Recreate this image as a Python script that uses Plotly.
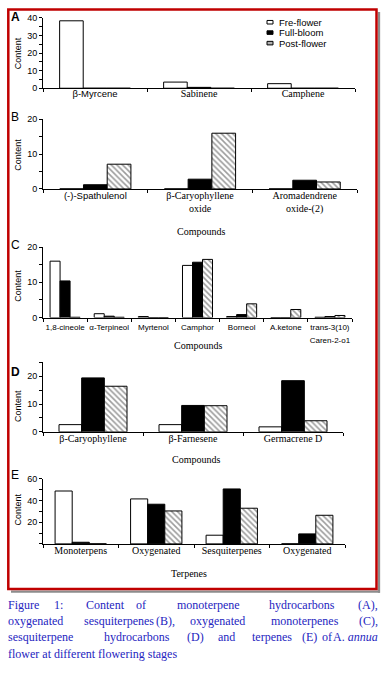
import plotly.graph_objects as go

W, H = 384, 674

# ---------------- data ----------------
series_names = ["Fre-flower", "Full-bloom", "Post-flower"]

A_categories = ["β-Myrcene", "Sabinene", "Camphene"]
A_fre = [38.3, 3.5, 2.6]
A_full = [0, 0.5, 0]
A_post = [0, 0, 0]

B_categories = ["(-)-Spathulenol", "β-Caryophyllene<br>oxide", "Aromadendrene<br>oxide-(2)"]
B_fre = [0, 0, 0]
B_full = [1.2, 2.8, 2.5]
B_post = [7.1, 16.0, 2.0]

C_categories = ["1,8-cineole", "α-Terpineol", "Myrtenol", "Camphor", "Borneol", "A.ketone",
                "trans-3(10)<br>Caren-2-o1"]
C_fre = [16.0, 1.1, 0.3, 14.8, 0.3, 0, 0.1]
C_full = [10.4, 0.4, 0, 15.7, 0.85, 0, 0.3]
C_post = [0.1, 0.1, 0, 16.5, 3.9, 2.3, 0.6]

D_categories = ["β-Caryophyllene", "β-Farnesene", "Germacrene D"]
D_fre = [2.6, 2.6, 1.8]
D_full = [19.4, 9.5, 18.4]
D_post = [16.4, 9.4, 4.0]

E_categories = ["Monoterpens", "Oxygenated", "Sesquiterpenes", "Oxygenated"]
E_fre = [48.8, 41.5, 8.0, 0]
E_full = [1.5, 36.6, 50.7, 9.2]
E_post = [0, 30.4, 32.9, 26.4]

y_label = "Content"

# ---------------- styling / layout ----------------
SANS = "Liberation Sans"
SERIF = "Liberation Serif"

def sans(t, size=9):
    return f'<span style="font-family:{SANS};font-size:{size}px">{t}</span>'

def serif(t, size=10):
    return f'<span style="font-family:{SERIF};font-size:{size}px">{t}</span>'

panels = [
    dict(key="A", cats=A_categories, vals=[A_fre, A_full, A_post], x0=43, x1=355, ytop=13, ybot=84.5,
         yrange=[0, 40], tickvals=[0, 10, 20, 30, 40], minor=5,
         fmt=[lambda t: sans(t, 9.5), serif, serif], xtitle=None, letter_y=12.5, letter_bold=True,
         content_y=49, standoff=-4),
    dict(key="B", cats=B_categories, vals=[B_fre, B_full, B_post], x0=43, x1=357, ytop=116, ybot=186.7,
         yrange=[0, 20], tickvals=[0, 10, 20], minor=5,
         fmt=[lambda t: sans(t, 9.5), serif, serif], xtitle=("Compounds", 201, 230), letter_y=114,
         letter_bold=False, content_y=152, standoff=-3),
    dict(key="C", cats=C_categories, vals=[C_fre, C_full, C_post], x0=43, x1=352, ytop=245.7, ybot=317.3,
         yrange=[0, 20], tickvals=[0, 10, 20], minor=5,
         fmt=[lambda t: sans(t, 8)] * 7, xtitle=("Compounds", 198, 346), letter_y=244, letter_bold=False,
         content_y=285, standoff=-1),
    dict(key="D", cats=D_categories, vals=[D_fre, D_full, D_post], x0=43, x1=343, ytop=362.7, ybot=433.3,
         yrange=[0, 25], tickvals=[0, 10, 20], minor=5,
         fmt=[serif] * 3, xtitle=("Compounds", 196, 461), letter_y=373, letter_bold=True,
         content_y=407, standoff=-3),
    dict(key="E", cats=E_categories, vals=[E_fre, E_full, E_post], x0=43, x1=345, ytop=481, ybot=547,
         yrange=[0, 60], tickvals=[20, 40, 60], minor=10,
         fmt=[serif] * 4, xtitle=("Terpenes", 188.5, 577), letter_y=477, letter_bold=False,
         content_y=512, standoff=-3),
]

styles = [
    dict(color="white", line=dict(color="black", width=1)),
    dict(color="black", line=dict(color="black", width=1)),
    dict(color="white", line=dict(color="black", width=1),
         pattern=dict(shape="\\", fgcolor="#3a3a3a", bgcolor="white", size=4, solidity=0.4)),
]

def px(x):
    return x / W

def py(y):
    return 1 - y / H

fig = go.Figure()
annotations = []
layout_axes = {}

for i, p in enumerate(panels):
    n = len(p["cats"])
    idx = i + 1
    xa = "x" if idx == 1 else f"x{idx}"
    ya = "y" if idx == 1 else f"y{idx}"
    xs = list(range(n))
    for s, (name, vals) in enumerate(zip(series_names, p["vals"])):
        fig.add_trace(go.Bar(
            x=xs, y=vals, name=name, xaxis=xa, yaxis=ya,
            marker=styles[s], showlegend=False,
        ))
    ticktext = [p["fmt"][k](c) for k, c in enumerate(p["cats"])]
    xkey = "xaxis" if idx == 1 else f"xaxis{idx}"
    ykey = "yaxis" if idx == 1 else f"yaxis{idx}"
    layout_axes[xkey] = dict(
        domain=[px(p["x0"]), px(p["x1"])], anchor=ya, range=[-0.5, n - 0.5],
        tickmode="array", tickvals=xs, ticktext=ticktext, ticks="", tickangle=0,
        ticklabelstandoff=p["standoff"],
        showline=True, linecolor="black", linewidth=1, showgrid=False, zeroline=False,
        tickfont=dict(family=SERIF, size=10, color="black"),
        minor=dict(tickmode="array", tickvals=[k - 0.5 for k in range(n + 1)], ticks="outside",
                   ticklen=3, tickcolor="black", tickwidth=1, showgrid=False),
        fixedrange=True,
    )
    layout_axes[ykey] = dict(
        domain=[py(p["ybot"]), py(p["ytop"])], anchor=xa, range=p["yrange"],
        tickmode="array", tickvals=p["tickvals"], ticks="outside", ticklen=3,
        tickcolor="black", tickwidth=1,
        showline=True, linecolor="black", linewidth=1, showgrid=False, zeroline=False,
        tickfont=dict(family=SANS, size=9, color="black"),
        minor=dict(dtick=p["minor"], tick0=0, ticks="outside", ticklen=3, tickcolor="black",
                   tickwidth=1, showgrid=False),
        fixedrange=True,
    )
    letter = f"<b>{p['key']}</b>" if p["letter_bold"] else p["key"]
    annotations.append(dict(text=letter, x=px(15), y=py(p["letter_y"]), xref="paper", yref="paper",
                            showarrow=False, xanchor="center", yanchor="middle",
                            font=dict(family=SANS, size=12, color="black")))
    annotations.append(dict(text=y_label, x=px(18), y=py(p["content_y"]), xref="paper", yref="paper",
                            showarrow=False, textangle=-90, xanchor="center", yanchor="middle",
                            font=dict(family=SANS, size=9, color="black")))
    if p["xtitle"]:
        t, tx, ty = p["xtitle"]
        annotations.append(dict(text=t, x=px(tx), y=py(ty), xref="paper", yref="paper",
                                showarrow=False, xanchor="center", yanchor="middle",
                                font=dict(family=SERIF, size=10, color="black")))

# compact legend (panel A)
shapes = []
legend_rows = [17.5, 28, 38.7]
legend_fill = ["white", "black", "#b0b0b0"]
for name, ry, fill in zip(series_names, legend_rows, legend_fill):
    shapes.append(dict(type="rect", xref="paper", yref="paper", x0=px(267), x1=px(273),
                       y0=py(ry + 1.8), y1=py(ry - 1.8), fillcolor=fill,
                       line=dict(color="black", width=1)))
    annotations.append(dict(text=name, x=px(277), y=py(ry), xref="paper", yref="paper",
                            showarrow=False, xanchor="left", yanchor="middle",
                            font=dict(family=SANS, size=9.5, color="black")))

# caption (justified by placing words)
CAP = "#2525c0"
caption_lines = [
    (609, [("Figure", 5.7, "left"), ("1:", 58, "center"), ("Content", 105, "center"),
           ("of", 141, "center"), ("monoterpene", 208, "center"), ("hydrocarbons", 302, "center"),
           ("(A),", 380, "right")]),
    (625, [("oxygenated", 5.7, "left"), ("sesquiterpenes", 119, "center"), ("(B),", 165, "center"),
           ("oxygenated", 217, "center"), ("monoterpenes", 305, "center"), ("(C),", 380, "right")]),
    (642, [("sesquiterpene", 5.7, "left"), ("hydrocarbons", 137, "center"), ("(D)", 195, "center"),
           ("and", 226, "center"), ("terpenes", 272, "center"), ("(E)", 309, "center"),
           ("of", 327, "center"), ("A. <i>annua</i>", 380, "right")]),
    (658.5, [("flower at different flowering stages", 5.7, "left")]),
]
for ly, words in caption_lines:
    for w, wx, anc in words:
        annotations.append(dict(text=w, x=px(wx), y=py(ly), xref="paper", yref="paper",
                                showarrow=False, xanchor=anc, yanchor="middle",
                                font=dict(family=SERIF, size=12, color=CAP)))

shapes += [
    dict(type="line", xref="paper", yref="paper", x0=px(379), x1=px(379), y0=py(7), y1=py(596.5),
         line=dict(color="#8c8c8c", width=2.3)),
    dict(type="line", xref="paper", yref="paper", x0=px(11), x1=px(380), y0=py(595.5), y1=py(595.5),
         line=dict(color="#8c8c8c", width=2.3)),
    dict(type="rect", xref="paper", yref="paper", x0=px(8.3), x1=px(376.5), y0=py(592.8), y1=py(4.5),
         line=dict(color="#c00000", width=2.5), fillcolor="rgba(0,0,0,0)"),
]

fig.update_layout(
    width=W, height=H, autosize=False,
    margin=dict(l=0, r=0, t=0, b=0, pad=0),
    paper_bgcolor="white", plot_bgcolor="white",
    barmode="group", bargap=0.32, bargroupgap=0,
    annotations=annotations, shapes=shapes, showlegend=False,
    **layout_axes,
)

fig.write_html("out.html", config={"displayModeBar": False, "staticPlot": True},
               post_script="document.body.style.margin='0';document.body.style.overflow='hidden';")
